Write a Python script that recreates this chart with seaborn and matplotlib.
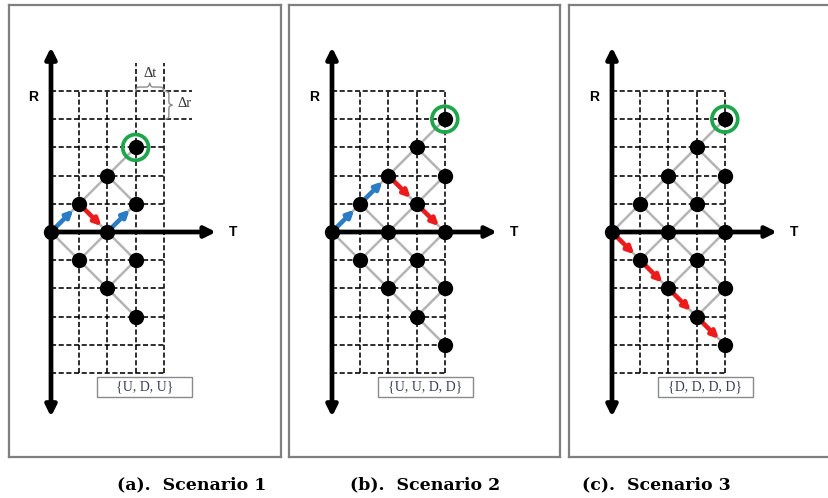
import numpy as np
import pandas as pd
import matplotlib
matplotlib.use("Agg")
import matplotlib.pyplot as plt
import seaborn as sns
from matplotlib.patches import Rectangle

# scenario data
scenario_steps = [3, 4, 4]
scenario_paths = [["U", "D", "U"], ["U", "U", "D", "D"], ["D", "D", "D", "D"]]
path_labels = ["{U, D, U}", "{U, U, D, D}", "{D, D, D, D}"]
target_t = [3, 4, 4]
target_r = [3, 4, 4]
captions = ["(a).  Scenario 1", "(b).  Scenario 2", "(c).  Scenario 3"]
grid_t = [0, 1, 2, 3, 4]
grid_r = [-5, -4, -3, -2, -1, 0, 1, 2, 3, 4, 5]

sns.set_theme(style="white")
plt.rcParams["font.family"] = ["DejaVu Sans"]

W, H = 829, 498
UNIT = 28.2
ORIGIN_Y = 232
# panel boxes in pixels: left, right, origin x
panels = [(9, 281, 51), (289, 560, 332), (569, 829, 612)]
caption_x = [192, 425, 656]
TOP, BOTTOM = 5, 457

BLUE = "#2b7cc4"
RED = "#ec1c1c"
GREEN = "#1fa64c"
EDGE_GRAY = "#b4b4b4"
DASH = (0, (3.2, 1.6))


def lattice(n):
    rows = []
    for t in range(n + 1):
        for k in range(t + 1):
            rows.append({"t": t, "r": t - 2 * k})
    return pd.DataFrame(rows)


def brace(ax, a, b, base, height, vertical=False, color="#8c8c8c"):
    s = np.linspace(0, 0.5, 60)
    beta = 45
    half = 1 / (1 + np.exp(-beta * (s - s[0]))) + 1 / (1 + np.exp(-beta * (s - s[-1])))
    shape = np.concatenate([half, half[-2::-1]]) - 0.5
    pos = np.linspace(a, b, len(shape))
    off = base + height * shape
    if vertical:
        ax.plot(off, pos, color=color, lw=1.0, zorder=3)
    else:
        ax.plot(pos, off, color=color, lw=1.0, zorder=3)


fig = plt.figure(figsize=(W / 100, H / 100), dpi=100)

for i, (x0, x1, ox) in enumerate(panels):
    ax = fig.add_axes([x0 / W, 1 - BOTTOM / H, (x1 - x0) / W, (BOTTOM - TOP) / H])
    ax.set_xlim((x0 - ox) / UNIT, (x1 - ox) / UNIT)
    ax.set_ylim((ORIGIN_Y - BOTTOM) / UNIT, (ORIGIN_Y - TOP) / UNIT)
    ax.set_xticks([])
    ax.set_yticks([])
    for name, sp in ax.spines.items():
        sp.set_color("#7f7f7f")
        sp.set_linewidth(1.6)
    if i == 2:
        ax.spines["right"].set_visible(False)

    extended = i == 0

    # dashed grid
    for r in grid_r:
        t_end = 5 if (extended and r >= 4) else grid_t[-1]
        ax.plot([0, t_end], [r, r], color="black", lw=1.15, ls=DASH, zorder=1)
    for t in grid_t[1:]:
        top = 6 if (extended and t >= 3) else grid_r[-1]
        ax.plot([t, t], [grid_r[0], top], color="black", lw=1.15, ls=DASH, zorder=1)

    # axes arrows
    ax.annotate("", xy=(0, 6.55), xytext=(0, -6.55),
                arrowprops=dict(arrowstyle="<|-|>", lw=3.4, color="black",
                                mutation_scale=16, shrinkA=0, shrinkB=0), zorder=2)
    ax.annotate("", xy=(5.85, 0), xytext=(0, 0),
                arrowprops=dict(arrowstyle="-|>", lw=3.4, color="black",
                                mutation_scale=16, shrinkA=0, shrinkB=0), zorder=2)
    ax.text(-0.64, 4.79, "R", ha="center", va="center", fontsize=10,
            fontweight="bold", family="Liberation Sans", color="black")
    ax.text(6.45, 0, "T", ha="center", va="center", fontsize=10,
            fontweight="bold", family="Liberation Sans", color="black")

    # tree edges
    n = scenario_steps[i]
    nodes = lattice(n)
    for _, row in nodes[nodes.t < n].iterrows():
        for dr in (1, -1):
            ax.plot([row.t, row.t + 1], [row.r, row.r + dr], color=EDGE_GRAY,
                    lw=1.8, zorder=3, solid_capstyle="butt")

    # highlighted path
    t, r = 0, 0
    for move in scenario_paths[i]:
        dr = 1 if move == "U" else -1
        ax.annotate("", xy=(t + 1, r + dr), xytext=(t, r),
                    arrowprops=dict(arrowstyle="-|>", lw=3.3,
                                    color=BLUE if move == "U" else RED,
                                    mutation_scale=10, shrinkA=5.5, shrinkB=6),
                    zorder=4)
        t, r = t + 1, r + dr

    sns.scatterplot(data=nodes, x="t", y="r", s=122, color="black",
                    linewidth=0, ax=ax, zorder=5, legend=False)
    ax.scatter([target_t[i]], [target_r[i]], s=345, facecolor="none",
               edgecolor=GREEN, linewidth=2.7, zorder=6)
    ax.set_xlabel("")
    ax.set_ylabel("")

    # path label box
    ax.add_patch(Rectangle((1.63, -5.86), 3.37, 0.72, fill=False,
                           edgecolor="#8a8a8a", lw=1.0, zorder=2))
    ax.text(3.31, -5.5, path_labels[i], ha="center", va="center", fontsize=10,
            family="Liberation Serif", color="#3a3d55")

    if extended:
        brace(ax, 3.0, 4.0, 5.0, 0.28)
        ax.text(3.5, 5.62, "\u0394t", ha="center", va="center", fontsize=10.5,
                family="Liberation Serif", color="#333333")
        brace(ax, 4.0, 5.0, 4.06, 0.24, vertical=True)
        ax.text(4.72, 4.55, "\u0394r", ha="center", va="center", fontsize=10.5,
                family="Liberation Serif", color="#333333")

    fig.text(caption_x[i] / W, 1 - 485 / H, captions[i], ha="center",
             va="center", fontsize=12.5, fontweight="bold", family="DejaVu Serif",
             color="black")

fig.savefig("out.png", dpi=100)
